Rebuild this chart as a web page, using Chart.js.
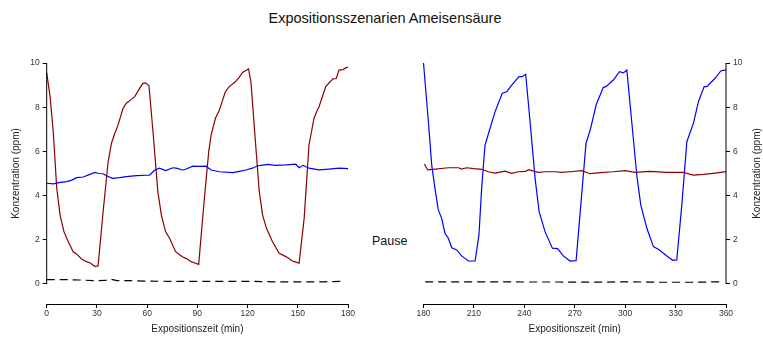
<!DOCTYPE html>
<html>
<head>
<meta charset="utf-8">
<script src="https://cdn.jsdelivr.net/npm/chart.js@4"></script>
<style>
  body { margin: 0; background: #fff; }
  #wrap { position: relative; width: 763px; height: 342px; font-family: "Liberation Sans", Arial, sans-serif; }
  canvas { position: absolute; top: 0; }
  #leftChart { left: 0; }
  #rightChart { left: 385px; }
  .label { position: absolute; color: #111; white-space: nowrap; }
  #mainTitle { left: 0; width: 770px; top: 10px; text-align: center; font-size: 14.5px; }
  #pause { left: 372px; top: 234px; font-size: 12.5px; }
</style>
</head>
<body>
<div id="wrap">
  <div id="mainTitle" class="label">Expositionsszenarien Ameisensäure</div>
  <div id="pause" class="label">Pause</div>
  <canvas id="leftChart" width="385" height="342"></canvas>
  <canvas id="rightChart" width="378" height="342"></canvas>
</div>
<script>
// Tick labels
const yTicks = [0, 2, 4, 6, 8, 10];
const xStep = 30;

// --- First half (0-180 min) ---
const redTimeA = [0, 2, 3.9, 6, 8, 10.3, 12.9, 15.8, 18, 20.8, 23.8, 26, 28.7, 30.7, 33.7, 36.7, 38.7, 40.7, 42.6, 45.6, 47.6, 50, 52.6, 55.5, 57.5, 59, 61.1, 63.5, 66.4, 68.5, 71, 73.4, 77, 79, 81.3, 83.5, 86.3, 88.5, 90.8, 94.2, 96.8, 98.2, 100.8, 103.2, 106.7, 109.1, 112.7, 115, 117, 120.6, 122, 125, 127, 129, 131.3, 134.9, 138.9, 142.9, 146.8, 148.5, 150.8, 153.8, 156.7, 159.7, 161.7, 162.7, 166.7, 171, 173, 174.6, 177, 178.9, 180];
const redValA = [9.55, 8.5, 6.9, 4.33, 3.12, 2.37, 1.91, 1.46, 1.35, 1.13, 1.01, 0.95, 0.8, 0.82, 3.27, 5.53, 6.37, 6.82, 7.19, 7.95, 8.18, 8.32, 8.48, 8.85, 9.08, 9.1, 8.97, 6.89, 4.18, 3.12, 2.37, 2.07, 1.46, 1.35, 1.22, 1.15, 1.01, 0.95, 0.89, 3.88, 5.99, 6.74, 7.5, 7.87, 8.7, 8.93, 9.15, 9.35, 9.57, 9.73, 9.15, 6.14, 4.18, 3.12, 2.52, 1.91, 1.39, 1.24, 1.04, 1.0, 0.94, 2.97, 6.29, 7.5, 7.87, 8.02, 8.93, 9.28, 9.3, 9.68, 9.7, 9.79, 9.82];

const blueTimeA = [0, 4, 8, 12, 15, 17.9, 21.8, 25.8, 28.8, 31, 33.7, 35.7, 39.3, 43.6, 47.6, 53.6, 59.5, 61.5, 64.5, 67.4, 71, 75.4, 77.4, 81.3, 83, 87.3, 90, 95.2, 98.2, 103.2, 111.1, 115.1, 119, 122.9, 126, 129, 132, 136.9, 142.9, 148.8, 150.8, 153.2, 156.7, 162.7, 168.6, 174.6, 180];
const blueValA = [4.56, 4.53, 4.6, 4.63, 4.7, 4.81, 4.84, 4.96, 5.05, 5.0, 4.99, 4.9, 4.78, 4.81, 4.86, 4.9, 4.92, 4.92, 5.16, 5.24, 5.13, 5.26, 5.24, 5.16, 5.19, 5.33, 5.32, 5.33, 5.16, 5.08, 5.04, 5.1, 5.16, 5.24, 5.35, 5.38, 5.41, 5.37, 5.39, 5.42, 5.26, 5.37, 5.24, 5.16, 5.2, 5.24, 5.22];

const blackTimeA = [0, 10, 20, 30, 35, 38, 42, 50, 60, 75, 90, 105, 120, 135, 150, 165, 176];
const blackValA = [0.2, 0.2, 0.18, 0.15, 0.16, 0.22, 0.15, 0.15, 0.13, 0.12, 0.12, 0.12, 0.12, 0.1, 0.1, 0.1, 0.12];

// --- Second half (180-360 min) ---
const blueTimeB = [180, 182.9, 184.9, 186.8, 188.8, 190.8, 192.8, 194.8, 196.8, 199.8, 202.7, 206.7, 210.7, 213, 214.6, 216.6, 219, 222.6, 226.9, 229.5, 232.5, 236.8, 238.8, 240.8, 243.4, 246.4, 248.8, 252.3, 256.7, 259.8, 263.2, 267.2, 270.8, 273.6, 276.7, 279.5, 282.7, 287, 288.6, 293, 296.6, 299, 301, 303.9, 306.9, 309.3, 312.9, 316.8, 320.4, 324.8, 328.3, 330.7, 333.7, 336.7, 340.6, 343.6, 347, 348.6, 353.5, 356.9, 358.9, 360];
const blueValB = [10.0, 7.35, 5.38, 4.33, 3.35, 2.97, 2.29, 2.07, 1.64, 1.54, 1.27, 1.04, 1.04, 2.22, 4.33, 6.29, 6.89, 7.8, 8.63, 8.7, 9.0, 9.38, 9.38, 9.49, 7.35, 4.78, 3.27, 2.37, 1.62, 1.6, 1.27, 1.04, 1.06, 3.57, 6.37, 7.05, 8.1, 8.9, 8.93, 9.23, 9.61, 9.55, 9.68, 7.35, 4.93, 3.57, 2.52, 1.69, 1.54, 1.27, 1.07, 1.09, 3.57, 6.44, 7.27, 8.25, 8.93, 8.93, 9.31, 9.64, 9.68, 9.68];

const redTimeB = [180.5, 182.5, 187, 194.8, 200.8, 202.7, 205.7, 210, 214.6, 218.6, 222.6, 228.5, 232.5, 236.5, 240.5, 242.8, 245.4, 248.3, 252.3, 258.3, 262.2, 267.2, 274.2, 279.1, 285.1, 293, 299.9, 305.9, 314.8, 324.8, 334.6, 340.6, 346.6, 352.5, 358.9, 360];
const redValB = [5.43, 5.16, 5.2, 5.26, 5.26, 5.2, 5.26, 5.22, 5.19, 5.08, 5.02, 5.11, 5.01, 5.08, 5.1, 5.17, 5.11, 5.05, 5.08, 5.08, 5.05, 5.08, 5.13, 4.99, 5.04, 5.08, 5.13, 5.05, 5.1, 5.05, 5.05, 4.93, 4.96, 5.01, 5.07, 5.07];

const blackTimeB = [181, 200, 220, 240, 260, 280, 300, 320, 340, 358];
const blackValB = [0.1, 0.1, 0.1, 0.09, 0.09, 0.08, 0.1, 0.08, 0.08, 0.1];

const FONT = '"Liberation Sans", Arial, sans-serif';
const RED = '#8b0000';
const BLUE = '#0000ff';

function toPoints(times, values) {
    return times.map((t, i) => ({ x: t, y: values[i] }));
}

function lineSet(times, values, color, dash) {
    return {
        data: toPoints(times, values),
        borderColor: color,
        borderWidth: 1.2,
        borderDash: dash || [],
        pointRadius: 0,
        tension: 0,
        clip: false
    };
}

// Draws the short y axis line (0..10 only) and the rotated axis title
const axisDecor = {
    id: 'axisDecor',
    afterDraw(chart, args, opts) {
        const ctx = chart.ctx;
        const y = chart.scales.y;
        const x = opts.side === 'left' ? chart.chartArea.left : chart.chartArea.right;
        const top = y.getPixelForValue(10);
        const bottom = y.getPixelForValue(0);
        ctx.save();
        ctx.strokeStyle = '#000';
        ctx.lineWidth = 1;
        ctx.beginPath();
        ctx.moveTo(x, top);
        ctx.lineTo(x, bottom);
        ctx.stroke();
        ctx.translate(opts.titleX, (top + bottom) / 2);
        ctx.rotate(-Math.PI / 2);
        ctx.font = '10px ' + FONT;
        ctx.fillStyle = '#222';
        ctx.textAlign = 'center';
        ctx.textBaseline = 'middle';
        ctx.fillText(opts.title, 0, 0);
        ctx.restore();
    }
};

function makeOptions(side, xMin, xMax, yWidth, pad, titleX) {
    return {
        responsive: false,
        animation: false,
        layout: { padding: pad },
        plugins: {
            legend: { display: false },
            tooltip: { enabled: false },
            axisDecor: { side: side, title: 'Konzentration (ppm)', titleX: titleX }
        },
        scales: {
            x: {
                type: 'linear',
                min: xMin,
                max: xMax,
                afterFit: function(scale) { scale.height = 38; },
                border: { display: true, color: '#000', width: 1 },
                grid: { drawOnChartArea: false, color: '#000', tickLength: 4 },
                ticks: {
                    stepSize: xStep,
                    padding: 1,
                    color: '#333',
                    font: { family: FONT, size: 8.5 },
                    maxRotation: 0
                },
                title: {
                    display: true,
                    text: 'Expositionszeit (min)',
                    color: '#222',
                    font: { family: FONT, size: 10 },
                    padding: { top: 0, bottom: 7 }
                }
            },
            y: {
                position: side,
                min: -0.905,
                max: 10,
                afterBuildTicks: function(scale) {
                    scale.ticks = yTicks.map(v => ({ value: v }));
                },
                afterFit: function(scale) { scale.width = yWidth; },
                border: { display: false },
                grid: { drawOnChartArea: false, color: '#000', tickLength: 4 },
                ticks: {
                    padding: 3,
                    color: '#333',
                    font: { family: FONT, size: 8.5 }
                }
            }
        }
    };
}

new Chart(document.getElementById('leftChart'), {
    type: 'line',
    data: {
        datasets: [
            lineSet(blackTimeA, blackValA, '#000', [8, 5]),
            lineSet(blueTimeA, blueValA, BLUE),
            lineSet(redTimeA, redValA, RED)
        ]
    },
    options: makeOptions('left', 0, 180, 46.7, { left: 0, right: 37, top: 63, bottom: 0 }, 16),
    plugins: [axisDecor]
});

new Chart(document.getElementById('rightChart'), {
    type: 'line',
    data: {
        datasets: [
            lineSet(blackTimeB, blackValB, '#000', [8, 5]),
            lineSet(redTimeB, redValB, RED),
            lineSet(blueTimeB, blueValB, BLUE)
        ]
    },
    options: makeOptions('right', 180, 360, 37, { left: 38.5, right: 0, top: 63, bottom: 0 }, 372.3),
    plugins: [axisDecor]
});
</script>
</body>
</html>
